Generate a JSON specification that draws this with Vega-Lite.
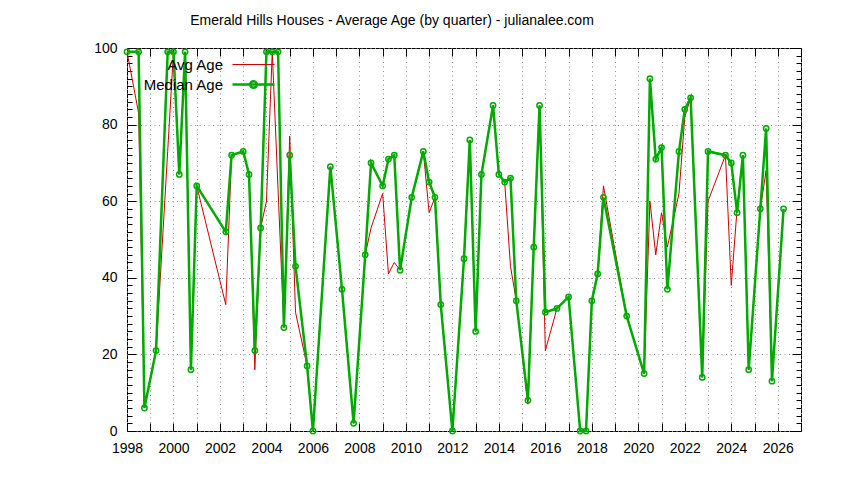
{
  "$schema": "https://vega.github.io/schema/vega-lite/v6.json",
  "width": 674,
  "height": 383,
  "autosize": "none",
  "padding": {"left": 127, "top": 48, "right": 43, "bottom": 49},
  "background": "white",
  "config": {
    "view": {"stroke": "black", "strokeWidth": 1},
    "axis": {
      "labelFont": "Liberation Sans",
      "labelFontSize": 14,
      "labelColor": "black",
      "tickColor": "black",
      "domain": false,
      "title": null,
      "labelOverlap": false,
      "labelFlush": false,
      "gridColor": "#909090",
      "gridDash": [1, 3.5],
      "gridWidth": 1
    }
  },
  "title": {
    "text": "Emerald Hills Houses - Average Age (by quarter) - julianalee.com",
    "font": "Liberation Sans",
    "fontSize": 14,
    "fontWeight": "normal",
    "color": "black",
    "anchor": "middle",
    "frame": "group",
    "baseline": "alphabetic",
    "dx": -72,
    "dy": 21,
    "offset": 23
  },
  "data": {
    "values": [
      {"t": 1998.0, "Avg Age": 99, "Median Age": 99},
      {"t": 1998.5, "Avg Age": 83, "Median Age": 99},
      {"t": 1998.75, "Avg Age": 6, "Median Age": 6},
      {"t": 1999.25, "Avg Age": 21, "Median Age": 21},
      {"t": 1999.75, "Avg Age": 73, "Median Age": 99},
      {"t": 2000.0, "Avg Age": 99, "Median Age": 99},
      {"t": 2000.25, "Avg Age": 67, "Median Age": 67},
      {"t": 2000.5, "Avg Age": 99, "Median Age": 99},
      {"t": 2000.75, "Avg Age": 16, "Median Age": 16},
      {"t": 2001.0, "Avg Age": 64, "Median Age": 64},
      {"t": 2002.25, "Avg Age": 33, "Median Age": 52},
      {"t": 2002.5, "Avg Age": 72, "Median Age": 72},
      {"t": 2003.0, "Avg Age": 73, "Median Age": 73},
      {"t": 2003.25, "Avg Age": 67, "Median Age": 67},
      {"t": 2003.5, "Avg Age": 16, "Median Age": 21},
      {"t": 2003.75, "Avg Age": 53, "Median Age": 53},
      {"t": 2004.0, "Avg Age": 60, "Median Age": 99},
      {"t": 2004.25, "Avg Age": 99, "Median Age": 99},
      {"t": 2004.5, "Avg Age": 63, "Median Age": 99},
      {"t": 2004.75, "Avg Age": 27, "Median Age": 27},
      {"t": 2005.0, "Avg Age": 77, "Median Age": 72},
      {"t": 2005.25, "Avg Age": 31, "Median Age": 43},
      {"t": 2005.75, "Avg Age": 17, "Median Age": 17},
      {"t": 2006.0, "Avg Age": 0, "Median Age": 0},
      {"t": 2006.75, "Avg Age": 69, "Median Age": 69},
      {"t": 2007.25, "Avg Age": 37, "Median Age": 37},
      {"t": 2007.75, "Avg Age": 2, "Median Age": 2},
      {"t": 2008.25, "Avg Age": 46, "Median Age": 46},
      {"t": 2008.5, "Avg Age": 53, "Median Age": 70},
      {"t": 2009.0, "Avg Age": 62, "Median Age": 64},
      {"t": 2009.25, "Avg Age": 41, "Median Age": 71},
      {"t": 2009.5, "Avg Age": 44, "Median Age": 72},
      {"t": 2009.75, "Avg Age": 42, "Median Age": 42},
      {"t": 2010.25, "Avg Age": 61, "Median Age": 61},
      {"t": 2010.75, "Avg Age": 73, "Median Age": 73},
      {"t": 2011.0, "Avg Age": 57, "Median Age": 65},
      {"t": 2011.25, "Avg Age": 61, "Median Age": 61},
      {"t": 2011.5, "Avg Age": 33, "Median Age": 33},
      {"t": 2012.0, "Avg Age": 0, "Median Age": 0},
      {"t": 2012.5, "Avg Age": 45, "Median Age": 45},
      {"t": 2012.75, "Avg Age": 76, "Median Age": 76},
      {"t": 2013.0, "Avg Age": 26, "Median Age": 26},
      {"t": 2013.25, "Avg Age": 67, "Median Age": 67},
      {"t": 2013.75, "Avg Age": 85, "Median Age": 85},
      {"t": 2014.0, "Avg Age": 67, "Median Age": 67},
      {"t": 2014.25, "Avg Age": 65, "Median Age": 65},
      {"t": 2014.5, "Avg Age": 43, "Median Age": 66},
      {"t": 2014.75, "Avg Age": 34, "Median Age": 34},
      {"t": 2015.25, "Avg Age": 7, "Median Age": 8},
      {"t": 2015.5, "Avg Age": 48, "Median Age": 48},
      {"t": 2015.75, "Avg Age": 85, "Median Age": 85},
      {"t": 2016.0, "Avg Age": 21, "Median Age": 31},
      {"t": 2016.5, "Avg Age": 32, "Median Age": 32},
      {"t": 2017.0, "Avg Age": 35, "Median Age": 35},
      {"t": 2017.5, "Avg Age": 0, "Median Age": 0},
      {"t": 2017.75, "Avg Age": 0, "Median Age": 0},
      {"t": 2018.0, "Avg Age": 34, "Median Age": 34},
      {"t": 2018.25, "Avg Age": 41, "Median Age": 41},
      {"t": 2018.5, "Avg Age": 64, "Median Age": 61},
      {"t": 2019.5, "Avg Age": 30, "Median Age": 30},
      {"t": 2020.25, "Avg Age": 15, "Median Age": 15},
      {"t": 2020.5, "Avg Age": 60, "Median Age": 92},
      {"t": 2020.75, "Avg Age": 46, "Median Age": 71},
      {"t": 2021.0, "Avg Age": 57, "Median Age": 74},
      {"t": 2021.25, "Avg Age": 48, "Median Age": 37},
      {"t": 2021.75, "Avg Age": 62, "Median Age": 73},
      {"t": 2022.0, "Avg Age": 82, "Median Age": 84},
      {"t": 2022.25, "Avg Age": 87, "Median Age": 87},
      {"t": 2022.75, "Avg Age": 14, "Median Age": 14},
      {"t": 2023.0, "Avg Age": 60, "Median Age": 73},
      {"t": 2023.75, "Avg Age": 72, "Median Age": 72},
      {"t": 2024.0, "Avg Age": 38, "Median Age": 70},
      {"t": 2024.25, "Avg Age": 58, "Median Age": 57},
      {"t": 2024.5, "Avg Age": 72, "Median Age": 72},
      {"t": 2024.75, "Avg Age": 16, "Median Age": 16},
      {"t": 2025.25, "Avg Age": 58, "Median Age": 58},
      {"t": 2025.5, "Avg Age": 68, "Median Age": 79},
      {"t": 2025.75, "Avg Age": 13, "Median Age": 13},
      {"t": 2026.25, "Avg Age": 58, "Median Age": 58}
    ]
  },
  "transform": [{"fold": ["Avg Age", "Median Age"], "as": ["key", "age"]}],
  "layer": [
    {
      "transform": [{"filter": "datum.key == 'Avg Age'"}],
      "mark": {"type": "line", "strokeWidth": 1},
      "encoding": {
        "x": {
          "field": "t", "type": "quantitative",
          "scale": {"domain": [1998, 2027], "nice": false, "zero": false},
          "axis": {
            "orient": "bottom",
            "values": [1998, 1999, 2000, 2001, 2002, 2003, 2004, 2005, 2006, 2007, 2008, 2009, 2010, 2011, 2012, 2013, 2014, 2015, 2016, 2017, 2018, 2019, 2020, 2021, 2022, 2023, 2024, 2025, 2026, 2027],
            "labelExpr": "datum.value % 2 == 0 && datum.value < 2027 ? datum.value : ''",
            "grid": true,
            "tickSize": -8,
            "labelPadding": 18
          }
        },
        "y": {
          "field": "age", "type": "quantitative",
          "scale": {"domain": [0, 100], "nice": false},
          "axis": {
            "orient": "left",
            "values": [0, 2, 4, 6, 8, 10, 12, 14, 16, 18, 20, 22, 24, 26, 28, 30, 32, 34, 36, 38, 40, 42, 44, 46, 48, 50, 52, 54, 56, 58, 60, 62, 64, 66, 68, 70, 72, 74, 76, 78, 80, 82, 84, 86, 88, 90, 92, 94, 96, 98, 100],
            "labelExpr": "datum.value % 20 == 0 ? datum.value : ''",
            "grid": true,
            "gridOpacity": {"condition": {"test": "datum.value % 20 == 0", "value": 1}, "value": 0},
            "tickSize": {"condition": {"test": "datum.value % 20 == 0", "value": -9}, "value": -5},
            "labelPadding": 19
          }
        },
        "color": {
          "field": "key", "type": "nominal",
          "scale": {"domain": ["Avg Age", "Median Age"], "range": ["#cc0000", "#00aa00"]},
          "legend": {
            "orient": "none",
            "legendX": 119,
            "legendY": 9,
            "title": null,
            "padding": 0,
            "symbolSize": 100,
            "labelAlign": "right",
            "labelOffset": -38,
            "labelFont": "Liberation Sans",
            "labelFontSize": 15,
            "labelColor": "black",
            "rowPadding": 3,
            "encode": {
              "symbols": {
                "update": {
                  "shape": {"signal": "datum.value === 'Median Age' ? 'M-4.2,0H4.2M0.66,0A0.66,0.66,0,1,1,-0.66,0A0.66,0.66,0,1,1,0.66,0' : 'M-4.2,0H4.2'"},
                  "strokeWidth": {"signal": "datum.value === 'Median Age' ? 2.5 : 1"}
                }
              }
            }
          }
        }
      }
    },
    {
      "transform": [{"filter": "datum.key == 'Median Age'"}],
      "mark": {"type": "line", "strokeWidth": 2.5},
      "encoding": {
        "x": {
          "field": "t", "type": "quantitative",
          "axis": {
            "orient": "top",
            "values": [1998, 1999, 2000, 2001, 2002, 2003, 2004, 2005, 2006, 2007, 2008, 2009, 2010, 2011, 2012, 2013, 2014, 2015, 2016, 2017, 2018, 2019, 2020, 2021, 2022, 2023, 2024, 2025, 2026, 2027],
            "labels": false,
            "grid": false,
            "tickSize": -8
          }
        },
        "y": {
          "field": "age", "type": "quantitative",
          "axis": {
            "orient": "right",
            "values": [0, 2, 4, 6, 8, 10, 12, 14, 16, 18, 20, 22, 24, 26, 28, 30, 32, 34, 36, 38, 40, 42, 44, 46, 48, 50, 52, 54, 56, 58, 60, 62, 64, 66, 68, 70, 72, 74, 76, 78, 80, 82, 84, 86, 88, 90, 92, 94, 96, 98, 100],
            "labels": false,
            "grid": false,
            "tickSize": {"condition": {"test": "datum.value % 20 == 0", "value": -9}, "value": -5}
          }
        },
        "color": {"field": "key", "type": "nominal"}
      }
    },
    {
      "transform": [{"filter": "datum.key == 'Median Age'"}],
      "mark": {"type": "point", "filled": false, "size": 28, "strokeWidth": 1.5, "color": "#00aa00", "opacity": 1},
      "encoding": {
        "x": {"field": "t", "type": "quantitative", "axis": null},
        "y": {"field": "age", "type": "quantitative", "axis": null}
      }
    }
  ],
  "resolve": {"axis": {"x": "independent", "y": "independent"}}
}
